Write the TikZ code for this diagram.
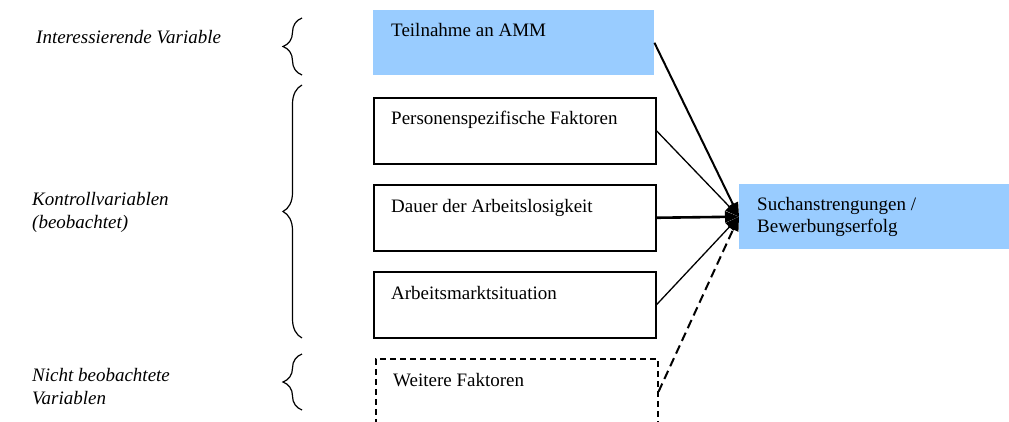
\documentclass[tikz,border=0pt]{standalone}
\usepackage{fontspec}
\setmainfont{Liberation Serif}
\usetikzlibrary{arrows.meta,calc,decorations.pathreplacing}
\definecolor{lblue}{RGB}{153,204,255}
\begin{document}
\begin{tikzpicture}[x=1pt,y=-1pt,
  every node/.style={font=\fontsize{19}{22}\selectfont},
  box/.style={draw=black,line width=1.5pt,minimum width=282pt,minimum height=66pt,inner sep=0pt,anchor=north west},
  bluebox/.style={fill=lblue,minimum width=281pt,minimum height=65pt,inner sep=0pt,anchor=north west},
  txt/.style={anchor=base west,inner sep=0pt},
  lbl/.style={anchor=base west,inner sep=0pt,font=\fontsize{19}{22}\selectfont\itshape},
  arr/.style={-{Triangle[length=14pt,width=11pt]}},
  brc/.style={decorate,decoration={brace,amplitude=19pt},line width=1.2pt}
]
\useasboundingbox (0,0) rectangle (1009,421);

% boxes
\node (amm) [bluebox] at (373,10) {};
\node (pers) [box] at (373,97) {};
\node (dauer) [box] at (373,184) {};
\node (amarkt) [box] at (373,271) {};
\node (weit) [box,dashed,dash pattern=on 6pt off 4pt] at (375,358) {};
\node (tgt) [bluebox,minimum width=275pt] at (739,184) {};

% box texts
\node (tamm) [txt] at ($(amm.north west)+(18,26)$) {Teilnahme an AMM};
\node (tpers) [txt] at ($(pers.north west)+(18,27)$) {Personenspezifische Faktoren};
\node (tdauer) [txt] at ($(dauer.north west)+(18,28)$) {Dauer der Arbeitslosigkeit};
\node (tamarkt) [txt] at ($(amarkt.north west)+(18,28)$) {Arbeitsmarktsituation};
\node (tweit) [txt] at ($(weit.north west)+(18,28)$) {Weitere Faktoren};
\node (ttgt1) [txt] at ($(tgt.north west)+(18,26)$) {Suchanstrengungen /};
\node (ttgt2) [txt] at ($(tgt.north west)+(18,48)$) {Bewerbungserfolg};

% left labels
\node (l1) [lbl] at (36,43) {Interessierende Variable};
\node (l2a) [lbl] at (32,205) {Kontrollvariablen};
\node (l2b) [lbl] at (32,228) {(beobachtet)};
\node (l3a) [lbl] at (32,381) {Nicht beobachtete};
\node (l3b) [lbl] at (32,404) {Variablen};

% braces
\draw[brc] (302,75) -- (302,18);
\draw[brc] (302,338) -- (302,85);
\draw[brc] (302,410) -- (302,354);

% arrows
\draw[arr,line width=2pt] (amm.east) -- (tgt.west);
\draw[arr,line width=1.3pt] (pers.east) -- (tgt.west);
\draw[arr,line width=2.6pt] (dauer.east) -- (tgt.west);
\draw[arr,line width=1.3pt] (amarkt.east) -- (tgt.west);
\draw[arr,line width=2pt,dash pattern=on 9pt off 5pt] (weit.east) -- (tgt.west);
\end{tikzpicture}
\end{document}
